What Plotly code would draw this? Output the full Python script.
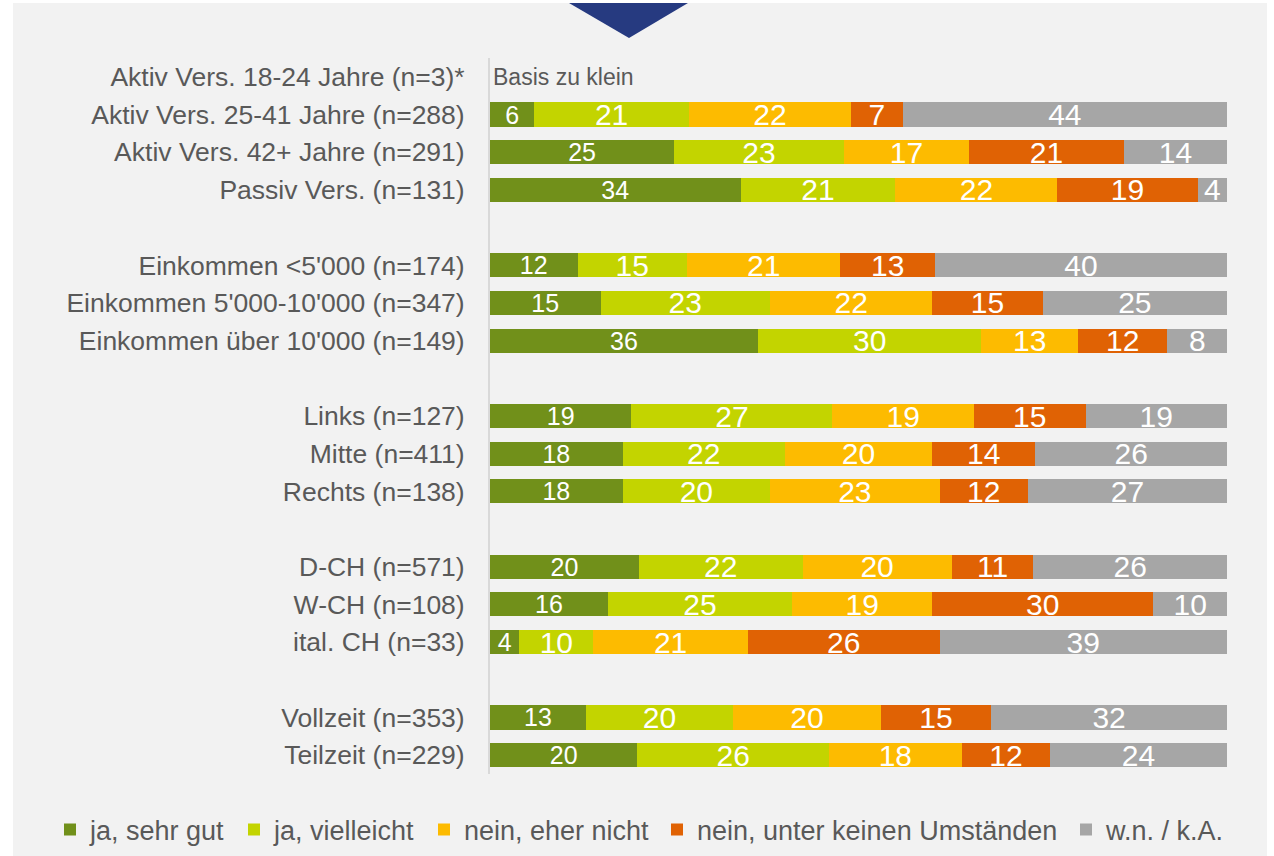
import plotly.graph_objects as go

categories = [
    "Aktiv Vers. 18-24 Jahre (n=3)*",
    "Aktiv Vers. 25-41 Jahre (n=288)",
    "Aktiv Vers. 42+ Jahre (n=291)",
    "Passiv Vers. (n=131)",
    " ",
    "Einkommen <5'000 (n=174)",
    "Einkommen 5'000-10'000 (n=347)",
    "Einkommen über 10'000 (n=149)",
    "  ",
    "Links (n=127)",
    "Mitte (n=411)",
    "Rechts (n=138)",
    "   ",
    "D-CH (n=571)",
    "W-CH (n=108)",
    "ital. CH (n=33)",
    "    ",
    "Vollzeit (n=353)",
    "Teilzeit (n=229)",
]

N = None
ja_sehr_gut      = [N, 6, 25, 34, N, 12, 15, 36, N, 19, 18, 18, N, 20, 16, 4, N, 13, 20]
ja_vielleicht    = [N, 21, 23, 21, N, 15, 23, 30, N, 27, 22, 20, N, 22, 25, 10, N, 20, 26]
nein_eher_nicht  = [N, 22, 17, 22, N, 21, 22, 13, N, 19, 20, 23, N, 20, 19, 21, N, 20, 18]
nein_keinesfalls = [N, 7, 21, 19, N, 13, 15, 12, N, 15, 14, 12, N, 11, 30, 26, N, 15, 12]
wn_ka            = [N, 44, 14, 4, N, 40, 25, 8, N, 19, 26, 27, N, 26, 10, 39, N, 32, 24]

series_names = ["ja, sehr gut", "ja, vielleicht", "nein, eher nicht",
                "nein, unter keinen Umständen", "w.n. / k.A."]
series_values = [ja_sehr_gut, ja_vielleicht, nein_eher_nicht, nein_keinesfalls, wn_ka]
colors = ["#71901a", "#c3d400", "#fdbb00", "#e06204", "#a6a6a6"]
text_sizes = [25, 30, 30, 30, 30]

note_text = "Basis zu klein"

FONT = "Liberation Sans, Arial, sans-serif"
GRAY_TEXT = "#595959"

W, H = 1274, 856
ML, MR, MT, MB = 490, 47, 58, 82
PW, PH = W - ML - MR, H - MT - MB

def px_x(p):
    return (p - ML) / PW

def px_y(p):
    return (H - MB - p) / PH

# pixel positions of the legend entries (layout only)
legend_px = [50, 234, 424, 657, 1066]
legend_ids = ["legend", "legend2", "legend3", "legend4", "legend5"]

fig = go.Figure()
for name, vals, col, ts, lid in zip(series_names, series_values, colors, text_sizes, legend_ids):
    fig.add_trace(go.Bar(
        y=categories,
        x=vals,
        name=name,
        orientation="h",
        marker=dict(color=col, line=dict(width=0)),
        text=[("" if v is None else str(v)) for v in vals],
        textposition="inside",
        insidetextanchor="middle",
        textangle=0,
        constraintext="none",
        textfont=dict(color="white", size=ts, family=FONT),
        hoverinfo="skip",
        legend=lid,
    ))

fig.add_shape(type="rect", xref="paper", yref="paper",
              x0=px_x(13), x1=px_x(1267), y0=px_y(856), y1=px_y(3),
              fillcolor="#f2f2f2", line=dict(width=0), layer="below")
fig.add_shape(type="path", xref="paper", yref="paper",
              path=f"M {px_x(569)},{px_y(3)} L {px_x(688)},{px_y(3)} L {px_x(629)},{px_y(38)} Z",
              fillcolor="#263a80", line=dict(width=0), layer="above")

fig.add_annotation(x=0, y=categories[0], xref="x", yref="y", text=note_text,
                   showarrow=False, xanchor="left", xshift=1,
                   font=dict(size=23, color=GRAY_TEXT, family=FONT))

legend_common = dict(orientation="h", xanchor="left", y=px_y(830), yanchor="middle",
                     font=dict(size=27, color=GRAY_TEXT, family=FONT),
                     bgcolor="rgba(0,0,0,0)", itemwidth=30)
legend_layout = {lid: dict(legend_common, x=px_x(p)) for lid, p in zip(legend_ids, legend_px)}

fig.update_layout(
    width=W, height=H,
    margin=dict(l=ML, r=MR, t=MT, b=MB, autoexpand=False),
    barmode="stack",
    barnorm="percent",
    bargap=0.36,
    paper_bgcolor="white",
    plot_bgcolor="rgba(0,0,0,0)",
    font=dict(family=FONT, color=GRAY_TEXT),
    showlegend=True,
    xaxis=dict(range=[0, 100], visible=False, fixedrange=True),
    yaxis=dict(autorange="reversed", type="category", fixedrange=True,
               showline=True, linecolor="#d9d9d9", linewidth=2,
               ticks="outside", ticklen=18, tickcolor="rgba(0,0,0,0)",
               showgrid=False, zeroline=False,
               tickfont=dict(size=26.5, color=GRAY_TEXT, family=FONT)),
    **legend_layout,
)

fig.write_html("out.html", config={"displayModeBar": False},
               post_script="document.body.style.margin='0';document.body.style.overflow='hidden';")
